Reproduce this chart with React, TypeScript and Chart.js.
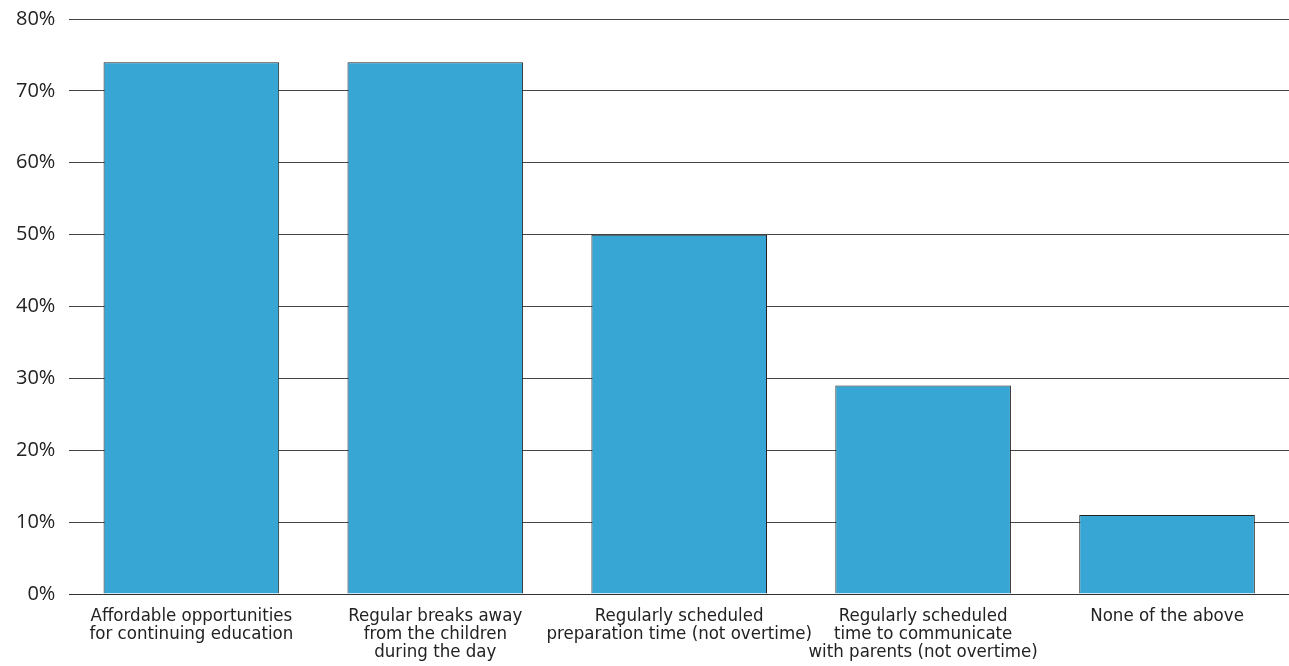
import React, { useEffect, useRef } from "react";
import { Chart, registerables } from "chart.js";

Chart.register(...registerables);

const categories: string[][] = [
  ["Affordable opportunities", "for continuing education"],
  ["Regular breaks away", "from the children", "during the day"],
  ["Regularly scheduled", "preparation time (not overtime)"],
  ["Regularly scheduled", "time to communicate", "with parents (not overtime)"],
  ["None of the above"],
];

const shares: number[] = [74, 74, 50, 29, 11];

const yTicks: number[] = [0, 10, 20, 30, 40, 50, 60, 70, 80];

export default function App() {
  const canvasRef = useRef<HTMLCanvasElement | null>(null);

  useEffect(() => {
    document.body.style.margin = "0";
    const ctx = canvasRef.current;
    if (!ctx) return;
    const chart = new Chart(ctx, {
      type: "bar",
      data: {
        labels: categories,
        datasets: [
          {
            data: shares,
            backgroundColor: "#38a6d5",
            borderColor: "#222222",
            borderWidth: 1,
            barPercentage: 0.72,
            categoryPercentage: 1,
          },
        ],
      },
      options: {
        animation: false,
        responsive: false,
        maintainAspectRatio: false,
        layout: { padding: { top: 0, right: 0, left: 2, bottom: 0 } },
        plugins: {
          legend: { display: false },
          tooltip: { enabled: false },
        },
        scales: {
          x: {
            grid: { display: false },
            border: { display: true, color: "#333333", width: 1 },
            ticks: {
              color: "#222222",
              font: { family: "'DejaVu Sans Condensed', 'Liberation Sans Narrow', sans-serif", size: 18.5, lineHeight: "18px" },
              maxRotation: 0,
              autoSkip: false,
              padding: 5,
            },
          },
          y: {
            min: 0,
            max: 80,
            afterBuildTicks: (axis: any) => {
              axis.ticks = yTicks.map((v) => ({ value: v }));
            },
            grid: { color: "#444444", lineWidth: 1, tickLength: 0, drawTicks: false },
            border: { display: false },
            ticks: {
              color: "#222222",
              font: { family: "'Open Sans', sans-serif", size: 20, lineHeight: 0.5 },
              padding: 14,
              callback: (v: any) => `${v}%`,
            },
          },
        },
      },
    });
    return () => chart.destroy();
  }, []);

  return (
    <div style={{ position: "absolute", left: 0, top: 0, width: 1289, height: 666 }}>
      <canvas ref={canvasRef} width={1289} height={666} />
    </div>
  );
}
